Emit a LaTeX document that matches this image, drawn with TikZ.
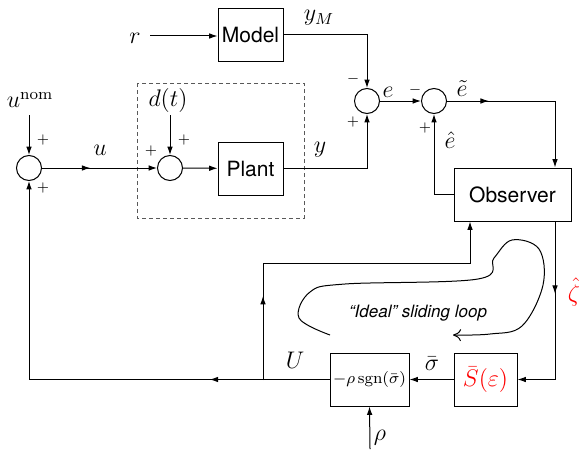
\documentclass[tikz,border=0pt]{standalone}
\usepackage{fontspec}
\setsansfont{TeX Gyre Heros}
\usetikzlibrary{arrows.meta,decorations.markings}
\begin{document}
\begin{tikzpicture}[x=0.5pt,y=-0.5pt,
  line width=0.5pt,
  >={Latex[length=4.2pt,width=2.8pt]},
  blk/.style={draw,rectangle,minimum width=32.5pt,minimum height=26.5pt,font=\sffamily,inner sep=1pt},
  sumc/.style={draw,circle,minimum size=12.5pt,inner sep=0pt},
  sig/.style={font=\scriptsize,inner sep=0pt},
  lbl/.style={font=\large,inner sep=0pt},
  midarr/.style={postaction={decorate},decoration={markings,mark=at position #1 with {\arrow{>}}}}
]
\useasboundingbox (0,0) rectangle (581,449);

% blocks
\node[blk,font=\sffamily\fontsize{10.5}{12}\selectfont] (model) at (250.5,35) {Model};
\node[blk,font=\sffamily\fontsize{10.5}{12}\selectfont] (plant) at (250.5,168.5) {Plant};
\node[blk,minimum width=58.5pt,font=\sffamily\fontsize{10.5}{12}\selectfont] (obs) at (512.5,194.5) {Observer};
\node[blk,minimum width=39.5pt,font=\footnotesize] (sgn) at (369.5,379.5) {$-\rho\,\mathrm{sgn}(\bar\sigma)$};
\node[blk,minimum width=31.5pt,text=red,font=\large] (sbar) at (485.5,379.5) {$\bar S(\varepsilon)$};

% summing junctions
\node[sumc] (su) at (29,168) {};
\node[sumc] (sd) at (170,168) {};
\node[sumc] (se) at (367,101) {};
\node[sumc] (s2) at (434,101) {};

% dashed box
\draw[black!65,dash pattern=on 2pt off 1.5pt] (137,83) rectangle (304,218);

% labels
\node[lbl] (r) at (135,38) {$r$};
\node[lbl] (ym) at (319,18) {$y_M$};
\node[lbl] (y) at (320,150) {$y$};
\node[lbl] (e) at (388,92) {$e$};
\node[lbl] (et) at (462,89) {$\tilde e$};
\node[lbl] (eh) at (450,140) {$\hat e$};
\node[lbl] (unom) at (30,100) {$u^{\mathrm{nom}}$};
\node[lbl] (u) at (100,150) {$u$};
\node[lbl] (dt) at (168,100) {$d(t)$};
\node[lbl,text=red] (zeta) at (574,292) {$\hat\zeta$};
\node[lbl] (sig) at (432,364) {$\bar\sigma$};
\node[lbl] (U) at (295,360) {$U$};
\node[lbl] (rho) at (380,438) {$\rho$};
\node[font=\sffamily\itshape\fontsize{8.5}{10}\selectfont] (loop) at (418,313) {``Ideal'' sliding loop};

% signs
\node[sig] (seminus) at (353,79) {$-$};
\node[sig] (seplus) at (353,122) {$+$};
\node[sig] (s2minus) at (415,90) {$-$};
\node[sig] (s2plus) at (425,128) {$+$};
\node[sig] (suplus1) at (43,140) {$+$};
\node[sig] (suplus2) at (43,188) {$+$};
\node[sig] (sdplus1) at (184,140) {$+$};
\node[sig] (sdplus2) at (151,151) {$+$};

% free ends
\coordinate (rin) at (150,36);
\coordinate (unomend) at (29,115);
\coordinate (dend) at (170,115);
\coordinate (rhoend) at (370,449);
\coordinate (ox) at (555,0);
\coordinate (ob) at (470,0);
\coordinate (j) at (263,380);
\coordinate (jt) at (263,263);

% connectors
\draw[->] (rin) -- (rin -| model.west);
\draw[->] (model.east) -| (se.north);
\draw[->] (plant.east) -| (se.south);
\draw[->] (se) -- (s2);
\draw[->,midarr=0.24] (s2.east) -| (ox |- obs.north);
\draw[->] (obs.west) -| (s2.south);
\draw[->] (unomend) -- (su.north);
\draw[->,midarr=0.42] (su.east) -- (sd.west);
\draw[->] (dend) -- (sd.north);
\draw[->] (sd) -- (plant);
\draw[->,midarr=0.37] (ox |- obs.south) |- (sbar.east);
\draw[->] (sbar) -- (sgn);
\draw[->,midarr=0.24] (sgn.west) -| (su.south);
\draw[->,midarr=0.23] (j) -- (jt) -| (ob |- obs.south);
\draw[->] (rhoend) -- (sgn.south);

% ideal sliding loop
\draw[-{To[length=4pt,width=6pt]}] plot[smooth,tension=0.6] coordinates {(330,335) (299,318) (310,292) (345,284) (478,279) (494,258) (512,240) (539,249) (543,285) (522,326) (490,334) (453,335)};
\end{tikzpicture}
\end{document}
